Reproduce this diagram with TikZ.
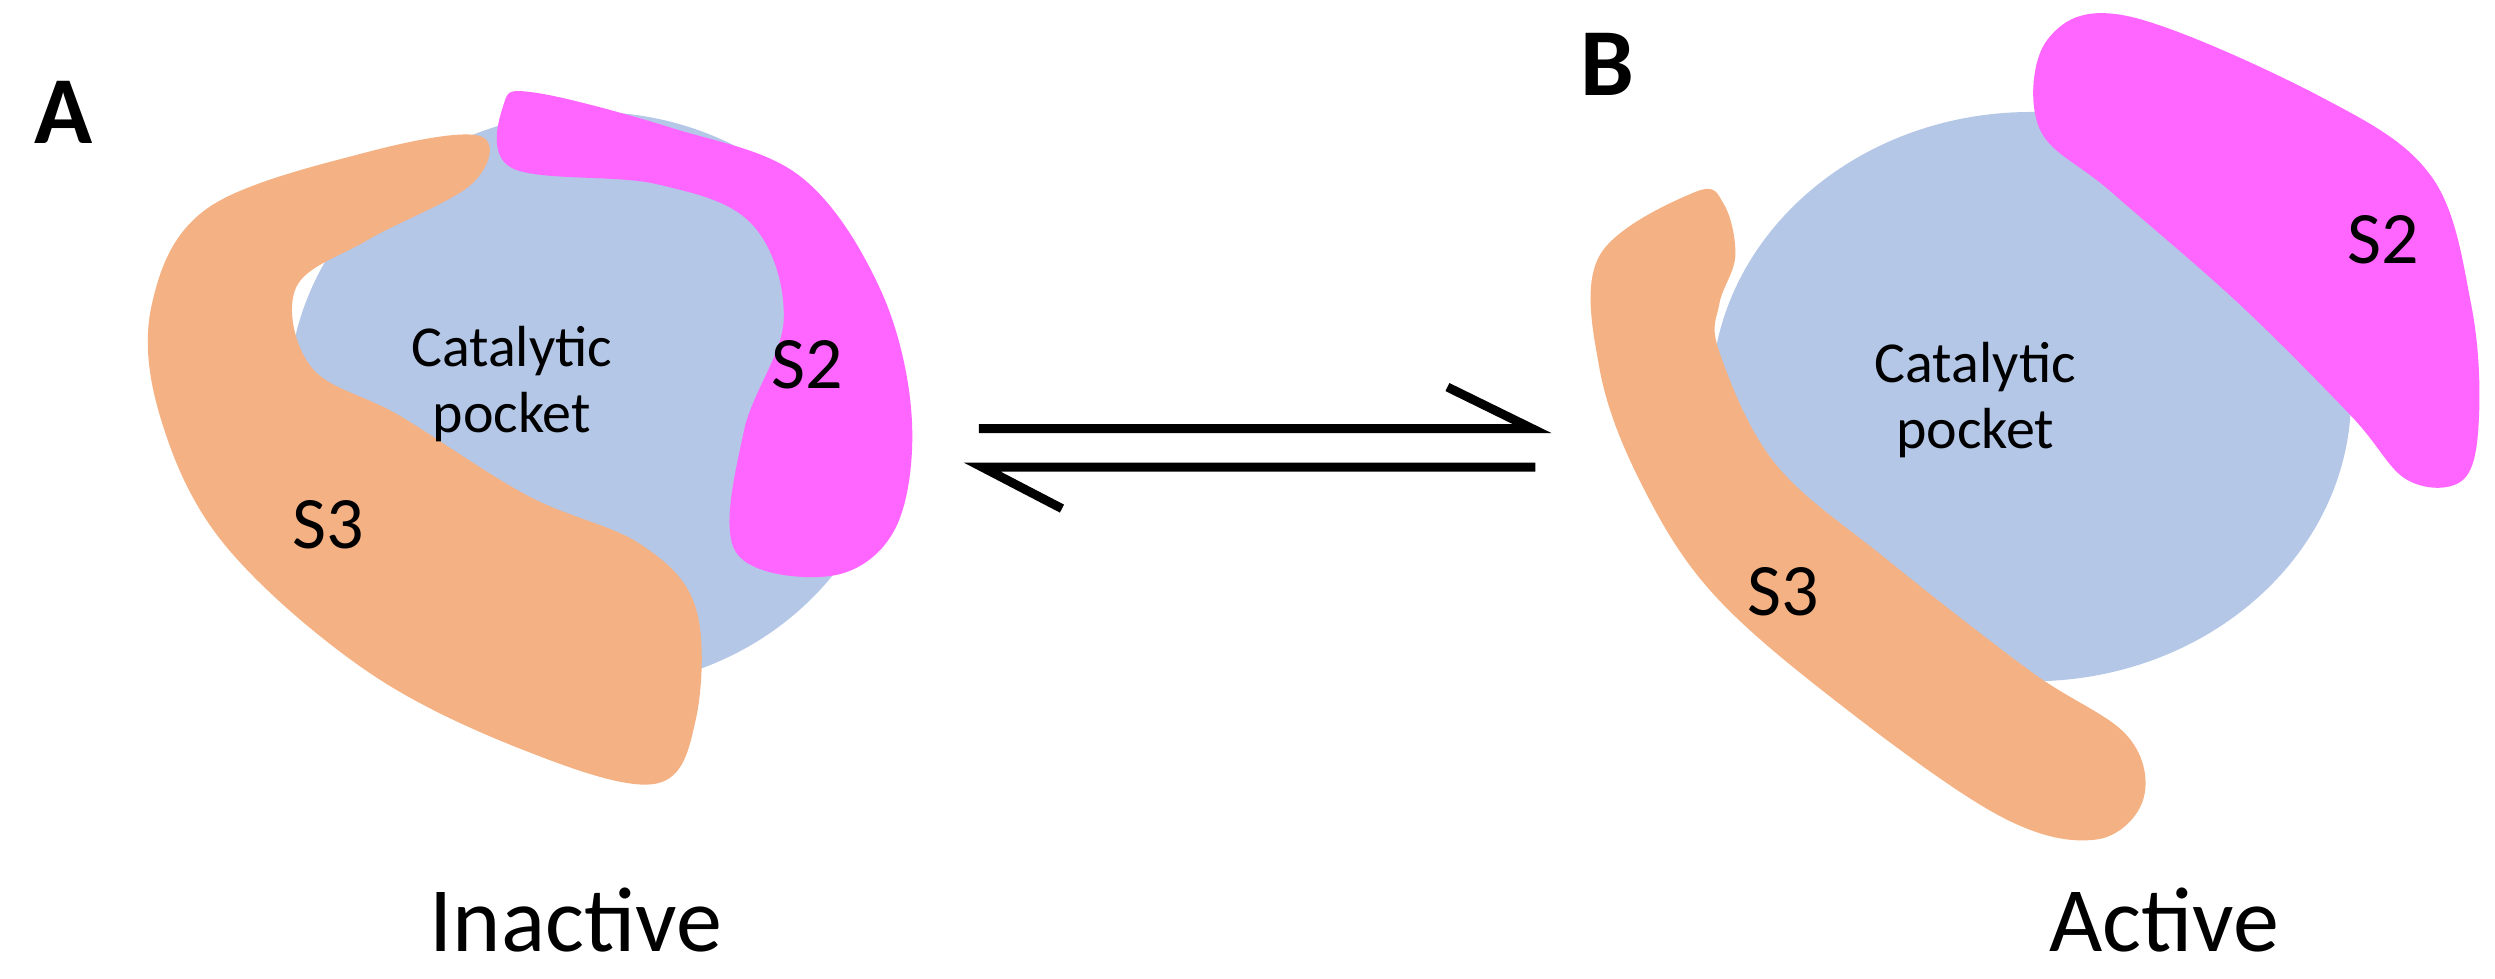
\documentclass[tikz,border=0pt]{standalone}
\usepackage{fontspec}
\setmainfont{Carlito}
\definecolor{pblue}{HTML}{B4C7E7}
\definecolor{porange}{HTML}{F4B183}
\definecolor{pmag}{HTML}{FF66FF}
\begin{document}
\begin{tikzpicture}[x=1.6pt,y=-1.6pt,
  lbl/.style={font=\fontsize{74}{76}\selectfont},
  cat/.style={font=\fontsize{58}{66}\selectfont,align=center},
  big/.style={font=\fontsize{92}{96}\selectfont},
  panel/.style={font=\fontsize{96}{100}\selectfont\bfseries},
  arr/.style={line width=9pt}]
\useasboundingbox (0,0) rectangle (1560,612);
% A
\fill[pblue] (370,250) ellipse [x radius=190, y radius=180];
\fill[porange] plot[smooth cycle,tension=0.6] coordinates {(300,85) (230,95) (130,130) (95,190) (100,260) (140,340) (230,420) (330,470) (410,490) (435,450) (435,380) (400,340) (330,310) (250,260) (195,230) (185,180) (230,150) (295,115)};
\fill[pmag] plot[smooth cycle,tension=0.6] coordinates {(315,65) (335,58) (420,80) (500,110) (550,180) (570,260) (560,330) (520,360) (460,345) (465,270) (490,200) (470,140) (410,115) (320,105)};
\node[cat] (catA) at (320,240) {Catalytic\\pocket};
\node[lbl] (s2a) at (505,228) {S2};
\node[lbl] (s3a) at (205,328) {S3};
\node[panel] (pa) at (40,70) {A};
\node[big] (ina) at (360,575) {Inactive};
% arrows
\coordinate (t1) at (612,268); \coordinate (t2) at (958,268); \coordinate (t3) at (905,242);
\coordinate (b1) at (614,292); \coordinate (b2) at (960,292); \coordinate (b3) at (664,318);
\draw[arr] (t1) -- (t2) -- (t3);
\draw[arr] (b2) -- (b1) -- (b3);
% B
\fill[pblue] (1270,248) ellipse [x radius=200, y radius=178];
\fill[pmag] plot[smooth cycle,tension=0.6] coordinates {(1280,25) (1330,10) (1450,60) (1520,110) (1545,190) (1550,260) (1540,300) (1505,300) (1470,260) (1400,190) (1320,120) (1275,80)};
\fill[porange] plot[smooth cycle,tension=0.6] coordinates {(1000,160) (1060,120) (1078,128) (1085,160) (1075,190) (1075,220) (1110,290) (1180,350) (1270,420) (1330,460) (1340,500) (1310,525) (1250,510) (1150,440) (1070,370) (1025,300) (1000,230)};
\node[cat] (catB) at (1235,250) {Catalytic\\pocket};
\node[lbl] (s2b) at (1490,150) {S2};
\node[lbl] (s3b) at (1115,370) {S3};
\node[panel] (pb) at (1005,40) {B};
\node[big] (inb) at (1353,575) {Active};
\end{tikzpicture}
\end{document}
